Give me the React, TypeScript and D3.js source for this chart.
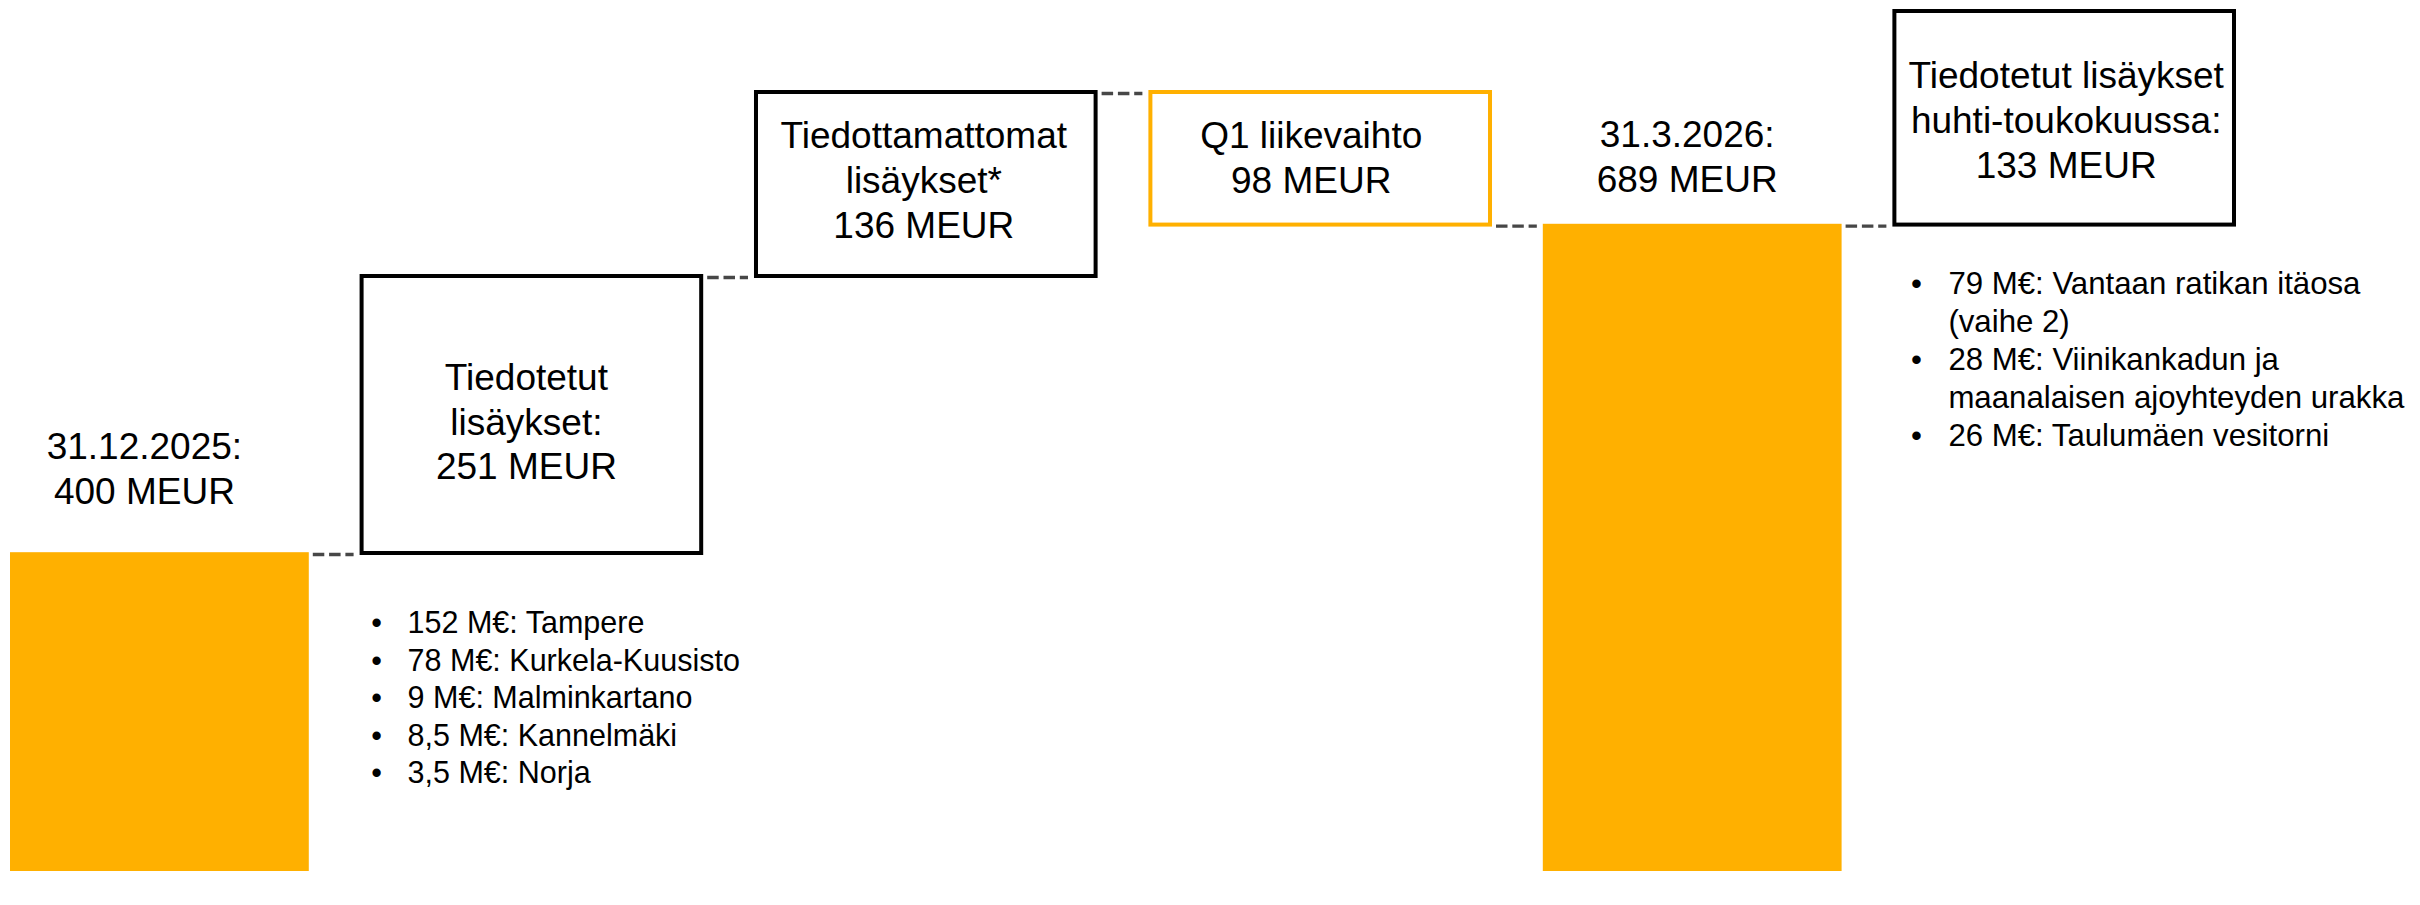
import React from "react";
import * as d3 from "d3";

// ---------- data ----------
const categories = [
  "31.12.2025",
  "Tiedotetut lisäykset",
  "Tiedottamattomat lisäykset",
  "Q1 liikevaihto",
  "31.3.2026",
  "Tiedotetut lisäykset huhti-toukokuussa",
];
const kinds = ["total", "step", "step", "step", "total", "step"];
const values = [400, 251, 136, -98, 689, 133];
const labelLines = [
  ["31.12.2025:", "400 MEUR"],
  ["Tiedotetut", "lisäykset:", "251 MEUR"],
  ["Tiedottamattomat", "lisäykset*", "136 MEUR"],
  ["Q1 liikevaihto", "98 MEUR"],
  ["31.3.2026:", "689 MEUR"],
  ["Tiedotetut lisäykset", "huhti-toukokuussa:", "133 MEUR"],
];
const announcedItems = [
  ["152 M€: Tampere"],
  ["78 M€: Kurkela-Kuusisto"],
  ["9 M€: Malminkartano"],
  ["8,5 M€: Kannelmäki"],
  ["3,5 M€: Norja"],
];
const upcomingItems = [
  ["79 M€: Vantaan ratikan itäosa", "(vaihe 2)"],
  ["28 M€: Viinikankadun ja", "maanalaisen ajoyhteyden urakka"],
  ["26 M€: Taulumäen vesitorni"],
];
// value breakpoints of the (non-linear) diagram value axis
const valueBreaks = [0, 400, 651, 787, 822];

// ---------- layout / style ----------
const W = 2420;
const H = 905;
const FONT = "'Liberation Sans', Arial, Helvetica, sans-serif";
const ORANGE = "#FFB000";
const DASH = "#474747";
const BIG = 37;
const LINE_BIG = 44.8;
// per-column text nudges [dx, dy] (layout only)
const NUDGE = [
  [-15, 0],
  [-5, 5],
  [-2, -6],
  [-9, -3],
  [-5, 0],
  [2, 0],
];

export default function App() {
  // waterfall levels
  let running = 0;
  const cols = values.map((v, i) => {
    let start: number, end: number;
    if (kinds[i] === "total") {
      start = 0;
      end = v;
    } else {
      start = running;
      end = running + v;
    }
    running = end;
    return { i, name: categories[i], kind: kinds[i], value: v, start, end };
  });

  // horizontal: unit-based linear scale (total bar = 1 unit, step box = 1.15, gap = 0.17)
  const unitW = (k: string) => (k === "total" ? 1 : 1.15);
  const gapU = 0.17;
  const lefts: number[] = [];
  let acc = 0;
  cols.forEach((c, i) => {
    lefts.push(acc);
    acc += unitW(c.kind) + (i < cols.length - 1 ? gapU : 0);
  });
  const x = d3.scaleLinear().domain([0, acc]).range([10, 2236]);

  const y = d3.scaleLinear().domain(valueBreaks).range([871, 553, 276, 92, 11]);

  const colX0 = (i: number) => x(lefts[i]);
  const colX1 = (i: number) => x(lefts[i] + unitW(cols[i].kind));

  const last = cols.length - 1;

  const bulletList = (
    items: string[][],
    col: number,
    dy: number,
    bulletDx: number,
    textDx: number,
    size: number,
    lineH: number,
    keyP: string
  ) => {
    const x0 = colX0(col);
    const base = y(cols[col].start) + dy;
    let row = 0;
    return items.map((item, k) => (
      <g key={keyP + k}>
        {item.map((t, j) => {
          const yy = base + row++ * lineH;
          return (
            <g key={j}>
              {j === 0 && (
                <text x={x0 + bulletDx} y={yy} textAnchor="middle" fontSize={size} fill="#000">
                  •
                </text>
              )}
              <text x={x0 + textDx} y={yy} fontSize={size} fill="#000">
                {t}
              </text>
            </g>
          );
        })}
      </g>
    ));
  };

  return (
    <svg
      width={W}
      height={H}
      viewBox={`0 0 ${W} ${H}`}
      style={{ position: "absolute", left: 0, top: 0, background: "#fff" }}
      fontFamily={FONT}
    >
      <rect x={0} y={0} width={W} height={H} fill="#fff" />

      {/* connectors */}
      {cols.slice(0, -1).map((c, i) => {
        const yy = y(c.end) + 1.5;
        return (
          <line
            key={"con" + i}
            x1={colX1(i) + 4}
            x2={colX0(i + 1) - 6}
            y1={yy}
            y2={yy}
            stroke={DASH}
            strokeWidth={3.3}
            strokeDasharray="11.5 4.8"
          />
        );
      })}

      {cols.map((c) => {
        const x0 = colX0(c.i);
        const x1 = colX1(c.i);
        const cx = (x0 + x1) / 2 + NUDGE[c.i][0];
        const lines = labelLines[c.i];
        if (c.kind === "total") {
          const top = y(c.end) - 0.8;
          const bottom = c.i === last ? H : y(0);
          const lift = c.i === 0 ? 49 : 33;
          const lastBase = y(c.end) - lift + NUDGE[c.i][1];
          return (
            <g key={c.name}>
              <rect x={x0} y={top} width={x1 - x0} height={bottom - top} fill={ORANGE} />
              {lines.map((t, k) => (
                <text
                  key={k}
                  x={cx}
                  y={lastBase - (lines.length - 1 - k) * LINE_BIG}
                  textAnchor="middle"
                  fontSize={BIG}
                  fill="#000"
                >
                  {t}
                </text>
              ))}
            </g>
          );
        }
        const yTop = y(Math.max(c.start, c.end));
        const yBot = y(Math.min(c.start, c.end));
        const cy = (yTop + yBot) / 2 + NUDGE[c.i][1];
        const n = lines.length;
        return (
          <g key={c.name}>
            <rect
              x={x0 + 2}
              y={yTop}
              width={x1 - x0 - 4}
              height={yBot - yTop}
              fill="#fff"
              stroke={c.value < 0 ? ORANGE : "#000"}
              strokeWidth={4}
            />
            {lines.map((t, k) => (
              <text
                key={k}
                x={cx}
                y={cy + 15 + (k - (n - 1) / 2) * LINE_BIG}
                textAnchor="middle"
                fontSize={BIG}
                fill="#000"
              >
                {t}
              </text>
            ))}
          </g>
        );
      })}

      {bulletList(announcedItems, 1, 80, 17, 48, 30.5, 37.5, "a")}
      {bulletList(upcomingItems, 5, 69, 24, 56, 31.2, 38, "u")}
    </svg>
  );
}
